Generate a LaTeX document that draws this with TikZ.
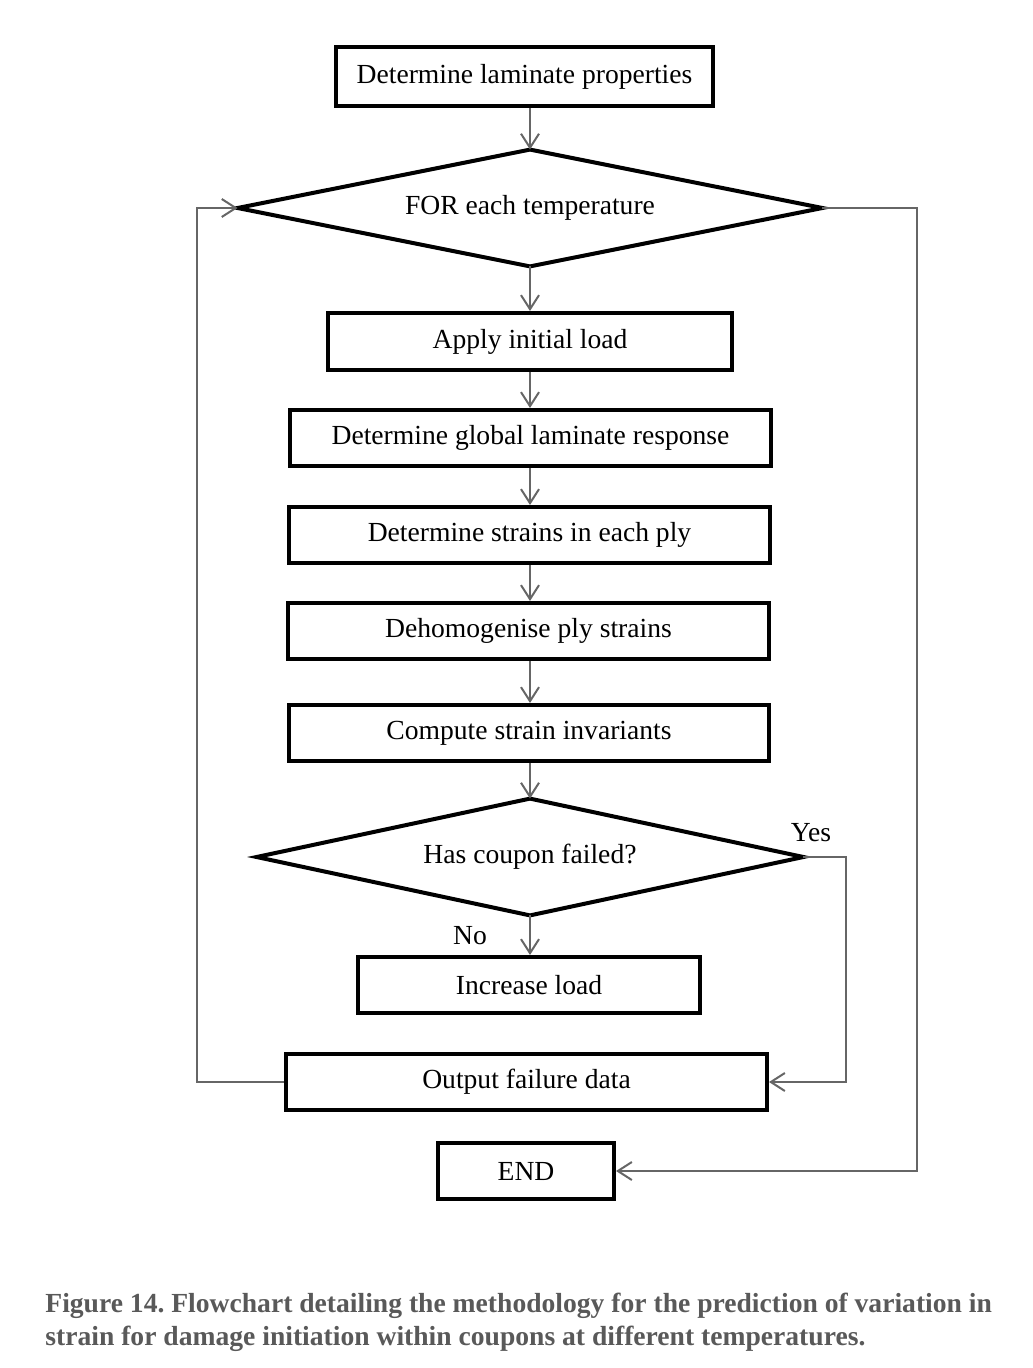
\documentclass[tikz,border=0pt]{standalone}
\usepackage{fontspec}
\setmainfont{Liberation Serif}
\usetikzlibrary{arrows.meta}
\definecolor{linegray}{HTML}{666666}
\definecolor{capgray}{HTML}{595959}
\tikzset{
  stepbox/.style={draw=black,line width=2pt,rectangle,inner sep=0pt,font=\fontsize{13.8}{16}\selectfont},
  decbox/.style={rectangle,inner sep=0pt,font=\fontsize{13.8}{16}\selectfont},
  decline/.style={draw=black,line width=2pt,line join=miter},
  arr/.style={draw=linegray,line width=1pt,-{Straight Barb[length=7pt,width=9pt,line width=1pt]}},
  lbl/.style={font=\fontsize{13.8}{16}\selectfont,inner sep=0pt},
  captext/.style={anchor=base west,inner sep=0pt,text=capgray,font=\fontsize{13.8}{16.5}\selectfont\bfseries}
}
\begin{document}
\frenchspacing
\begin{tikzpicture}[x=0.5pt,y=-0.5pt]
\useasboundingbox (0,0) rectangle (1032,1368);
\coordinate (axis) at (530,0);
\coordinate (lx) at (197,0);
\coordinate (rx) at (917,0);
\coordinate (yx) at (846,0);

\node[stepbox,minimum width=188.5pt,minimum height=29.5pt] (b1) at (524.5,76.5) {Determine laminate properties};
\node[decbox,minimum width=292pt,minimum height=58pt] (d1) at (530,208) {FOR each temperature};
\draw[decline] (d1.north) -- (d1.east) -- (d1.south) -- (d1.west) -- cycle;
\node[stepbox,minimum width=202pt,minimum height=28.5pt] (b2) at (530,341.5) {Apply initial load};
\node[stepbox,minimum width=240.5pt,minimum height=28pt] (b3) at (530.5,438) {Determine global laminate response};
\node[stepbox,minimum width=240.5pt,minimum height=28pt] (b4) at (529.5,535) {Determine strains in each ply};
\node[stepbox,minimum width=240.5pt,minimum height=28pt] (b5) at (528.5,631) {Dehomogenise ply strains};
\node[stepbox,minimum width=240pt,minimum height=28pt] (b6) at (529,733) {Compute strain invariants};
\node[decbox,minimum width=273pt,minimum height=58pt] (d2) at (530,857) {Has coupon failed?};
\draw[decline] (d2.north) -- (d2.east) -- (d2.south) -- (d2.west) -- cycle;
\node[stepbox,minimum width=171pt,minimum height=28pt] (b7) at (529,985) {Increase load};
\node[stepbox,minimum width=240.5pt,minimum height=28pt] (b8) at (526.5,1082) {Output failure data};
\node[stepbox,minimum width=88pt,minimum height=28pt] (b9) at (526,1171) {END};

\node[lbl] (yes) at (811,833) {Yes};
\node[lbl] (no) at (470,936) {No};

\draw[arr] (b1.south -| axis) -- (d1.north -| axis);
\draw[arr] (d1.south -| axis) -- (b2.north -| axis);
\draw[arr] (b2.south -| axis) -- (b3.north -| axis);
\draw[arr] (b3.south -| axis) -- (b4.north -| axis);
\draw[arr] (b4.south -| axis) -- (b5.north -| axis);
\draw[arr] (b5.south -| axis) -- (b6.north -| axis);
\draw[arr] (b6.south -| axis) -- (d2.north -| axis);
\draw[arr] (d2.south -| axis) -- (b7.north -| axis);

\draw[arr] (b8.west) -- (b8.west -| lx) |- (d1.west);
\draw[arr] (d1.east) -- (d1.east -| rx) |- (b9.east);
\draw[arr] (d2.east) -- (d2.east -| yx) |- (b8.east);

\node[captext] (cap1) at (45,1312) {Figure 14. Flowchart detailing the methodology for the prediction of variation in};
\node[captext] (cap2) at (45,1345) {strain for damage initiation within coupons at different temperatures.};
\end{tikzpicture}
\end{document}
